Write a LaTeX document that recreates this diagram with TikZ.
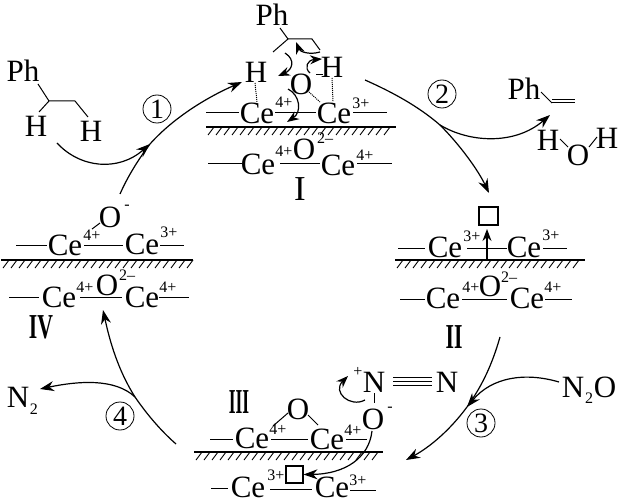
\documentclass[tikz,border=0pt]{standalone}
\usepackage{fontspec}
\setmainfont{Liberation Serif}
\usetikzlibrary{arrows.meta}
\tikzset{
  atom/.style={font=\fontsize{31}{31}\selectfont,inner sep=0pt},
  small/.style={font=\fontsize{16}{16}\selectfont,inner sep=0pt},
  numeral/.style={font=\fontsize{35}{35}\selectfont\bfseries,inner sep=0pt},
  numeralplain/.style={font=\fontsize{35}{35}\selectfont,inner sep=0pt},
  stepnum/.style={draw,circle,line width=.8pt,minimum size=28pt,inner sep=0pt,font=\fontsize{28}{28}\selectfont},
  vacancy/.style={draw,line width=1.1pt,inner sep=0pt},
  bond/.style={line width=1pt},
  hbond/.style={line width=1pt,densely dotted},
  flow/.style={line width=1.2pt,-{Stealth[length=14pt,width=10pt]}},
  plainflow/.style={line width=1.2pt},
  mini/.style={line width=1.2pt,-{Stealth[length=12pt,width=9pt]}},
}
\newcommand{\surfacebar}[3]{%
  \draw[line width=1.3pt] (#1,#3) -- (#2,#3);
  \pgfmathsetmacro{\xsecond}{#1+8}
  \pgfmathsetmacro{\xlast}{#2-8}
  \foreach \hx in {#1,\xsecond,...,\xlast}
    \draw[line width=.9pt] (\hx+8,#3) -- (\hx+2,#3+8);
}
\begin{document}
\begin{tikzpicture}[x=1pt,y=-1pt]
\useasboundingbox (0,0) rectangle (627,500);

% ---- reactant
\node[atom] (ph0) at (23,71) {Ph};
\node[atom] (h0a) at (36,126) {H};
\node[atom] (h0b) at (91,131) {H};
\draw[bond] (38,84) -- (49,101) -- (75,101) -- (88,117);
\draw[bond] (49,101) -- (39,112);

% ---- state I
\node[atom] (ph1) at (272,15) {Ph};
\draw[bond] (280,28) -- (288,39) -- (273,52);
\draw[bond] (288,39) -- (312,39) -- (320,50);
\node[atom] (h1a) at (256,72) {H};
\node[atom] (h1b) at (332,67) {H};
\node[atom] (o1) at (301,84) {O};
\draw[bond] (316,75) -- (323,75);
\draw[hbond] (255,83) -- (257,102);
\draw[hbond] (309,92) -- (320,102);
\draw[hbond] (332,78) -- (333,102);
\node[atom] (ce1a) at (257,113) {Ce};
\node[small] at (284,102) {4+};
\node[atom] (ce1b) at (334,113) {Ce};
\node[small] at (361,103) {3+};
\draw[bond] (206,113) -- (239,113) (275,113) -- (316,113) (353,113) -- (387,113);
\surfacebar{206}{396}{127}
\node[atom] (ce1c) at (258,164) {Ce};
\node[small] at (284,151) {4+};
\node[atom] (o1b) at (304,149) {O};
\node[small] at (325,138) {2–};
\node[atom] (ce1d) at (338,165) {Ce};
\node[small] at (365,155) {4+};
\draw[bond] (208,164) -- (242,164) (280,164) -- (320,164) (357,164) -- (392,164);
\node[numeralplain] (r1) at (300,189) {I};
\draw[mini] (285,53) .. controls (296,60) and (292,70) .. (278,76);
\draw[mini] (320,52) .. controls (310,55) and (300,52) .. (296,42);
\draw[mini] (310,73) .. controls (304,68) and (307,60) .. (322,59);
\draw[mini] (288,89) .. controls (300,95) and (302,112) .. (287,122);

% ---- state II
\node[vacancy,minimum width=19pt,minimum height=18pt] (box2) at (488.5,216) {};
\coordinate (sub2) at (487,260);
\draw[line width=1.1pt,-{Stealth[length=12pt,width=9pt]}] (sub2) -- (487,229);
\node[atom] (ce2a) at (445,247) {Ce};
\node[small] at (472,236) {3+};
\node[atom] (ce2b) at (524,247) {Ce};
\node[small] at (551,235) {3+};
\draw[bond] (398,248) -- (425,248) (467,248) -- (507,248) (543,248) -- (567,248);
\surfacebar{395}{585}{260}
\node[atom] (ce2c) at (443,298) {Ce};
\node[small] at (471,287) {4+};
\node[atom] (o2) at (490,286) {O};
\node[small] at (509,277) {2–};
\node[atom] (ce2d) at (527,298) {Ce};
\node[small] at (553,287) {4+};
\draw[bond] (400,299) -- (425,299) (462,299) -- (507,299) (545,299) -- (572,299);
\node[numeral] (r2) at (454,337) {\scalebox{.62}[1]{II}};

% ---- styrene and water
\node[atom] (ph3) at (524,89) {Ph};
\draw[bond] (541,92) -- (552,103);
\draw[bond] (552,99.5) -- (575,99.5) (552,103) -- (575,103);
\node[atom] (hw1) at (548,140) {H};
\node[atom] (ow) at (578,155) {O};
\node[atom] (hw2) at (607,138) {H};
\draw[bond] (560,139) -- (568,147) (589,147) -- (597,137);

% ---- state III
\node[numeral] (r3) at (239,402) {\scalebox{.5}[1]{III}};
\node[atom] (n3a) at (374,382) {N};
\node[small] at (358,372) {+};
\draw[bond] (393,377) -- (432,377) (393,381) -- (432,381) (393,385) -- (432,385);
\node[atom] (n3b) at (447,382) {N};
\draw[bond] (374,393) -- (374,403);
\node[atom] (o3a) at (373,419) {O};
\node[small] at (390,409) {-};
\node[atom] (o3b) at (298,409) {O};
\draw[bond] (273,426) -- (288,413) (308,415) -- (318,425);
\node[atom] (ce3a) at (252,438) {Ce};
\node[small] at (278,429) {4+};
\node[atom] (ce3b) at (327,439) {Ce};
\node[small] at (353,430) {4+};
\draw[bond] (210,439) -- (233,439) (271,439) -- (308,439) (346,439) -- (367,439);
\surfacebar{194}{383}{452}
\node[atom] (ce3c) at (248,487) {Ce};
\node[small] at (276,475) {3+};
\node[vacancy,minimum width=17pt,minimum height=17pt] (box3) at (294.5,474.5) {};
\node[atom] (ce3d) at (332,487) {Ce};
\node[small] at (358,480) {3+};
\draw[bond] (211,488) -- (228,488) (270,489) -- (312,489) (350,490) -- (376,490);
\draw[mini] (365,400) .. controls (350,408) and (332,392) .. (348,376);
\draw[flow] (372,431) .. controls (369,458) and (345,474) .. (box3.east);

% ---- state IV
\node[atom] (o4) at (110,217) {O};
\node[small] at (127,207) {-};
\draw[bond] (92,229) -- (100,223);
\node[atom] (ce4a) at (65,245) {Ce};
\node[small] at (92,235) {4+};
\node[atom] (ce4b) at (142,244) {Ce};
\node[small] at (169,232) {3+};
\draw[bond] (16,245) -- (47,245) (84,245) -- (123,245) (160,245) -- (184,245);
\surfacebar{1}{193}{260}
\node[atom] (ce4c) at (59,297) {Ce};
\node[small] at (85,287) {4+};
\node[atom] (o4b) at (107,285) {O};
\node[small] at (127,275) {2–};
\node[atom] (ce4d) at (142,297) {Ce};
\node[small] at (168,287) {4+};
\draw[bond] (9,297) -- (39,297) (80,297) -- (122,297) (159,297) -- (189,297);
\node[numeral] (r4) at (41,327) {\scalebox{.62}[1]{IV}};

% ---- other species
\node[atom] (n2) at (18,397) {N};
\node[small] at (34,409) {2};
\node[atom] (n2o) at (573,387) {N};
\node[small] (n2osub) at (589,398) {2};
\node[atom] (n2oo) at (605,387) {O};

% ---- step numbers
\node[stepnum] (s1) at (157,109) {1};
\node[stepnum] (s2) at (442,94) {2};
\node[stepnum] (s3) at (481,423) {3};
\node[stepnum] (s4) at (120,416) {4};

% ---- main cycle
\coordinate (a1s) at (120,194);
\coordinate (a1j) at (150,144);
\coordinate (a1e) at (242,82);
\coordinate (a1b) at (57,143);
\draw[plainflow] (a1s) .. controls (128,176) and (138,160) .. (a1j);
\draw[flow] (a1j) .. controls (175,116) and (210,96) .. (a1e);
\draw[flow] (a1b) .. controls (80,168) and (118,172) .. (a1j);

\coordinate (a2s) at (365,80);
\coordinate (a2j) at (440,125);
\coordinate (a2e) at (489,193);
\coordinate (a2b) at (550,115);
\draw[plainflow] (a2s) .. controls (392,92) and (418,106) .. (a2j);
\draw[flow] (a2j) .. controls (460,145) and (478,170) .. (a2e);
\draw[flow] (a2j) .. controls (470,143) and (515,145) .. (a2b);

\coordinate (a3s) at (500,337);
\coordinate (a3j) at (467,407);
\coordinate (a3e) at (406,460);
\coordinate (a3b) at (559,382);
\draw[plainflow] (a3s) .. controls (492,365) and (482,386) .. (a3j);
\draw[flow] (a3j) .. controls (450,430) and (430,447) .. (a3e);
\draw[flow] (a3b) .. controls (525,372) and (492,377) .. (a3j);

\coordinate (a4s) at (176,444);
\coordinate (a4j) at (135,397);
\coordinate (a4e) at (103,310);
\coordinate (a4b) at (40,389);
\draw[plainflow] (a4s) .. controls (160,430) and (146,413) .. (a4j);
\draw[flow] (a4j) .. controls (118,370) and (110,342) .. (a4e);
\draw[flow] (a4j) .. controls (115,378) and (78,381) .. (a4b);
\end{tikzpicture}
\end{document}
